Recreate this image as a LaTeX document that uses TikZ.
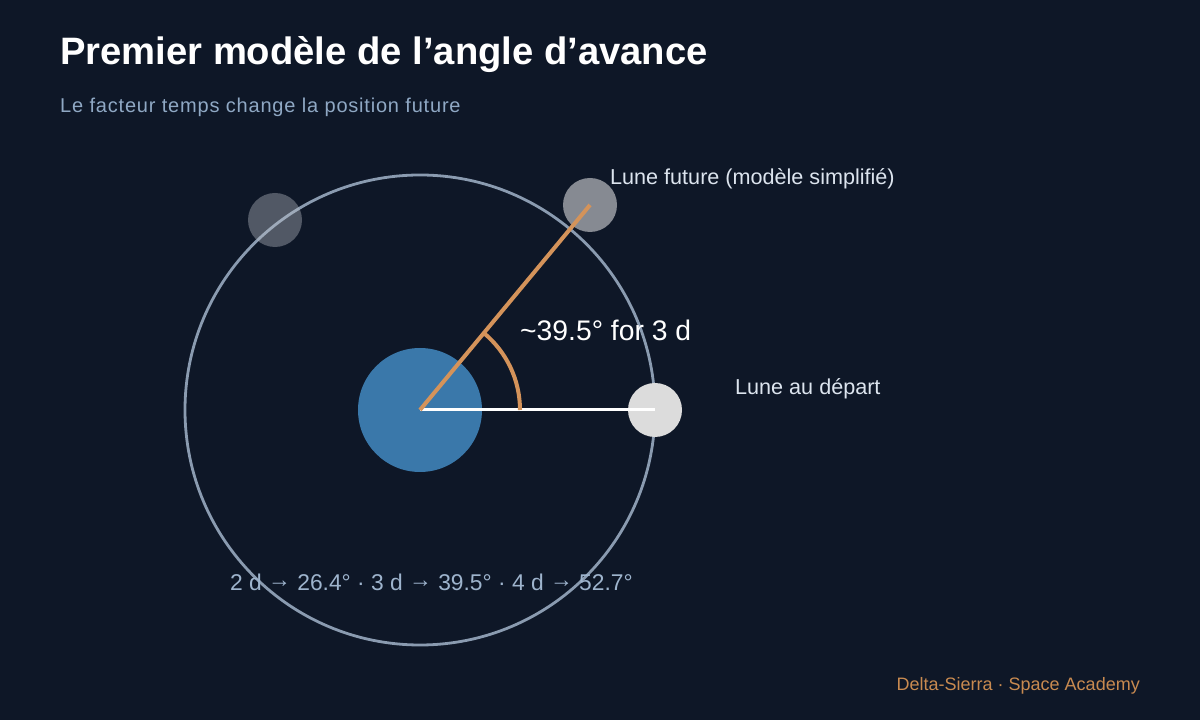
\documentclass[tikz,border=0pt]{standalone}
\usepackage{fontspec}
\setmainfont{Liberation Sans}
\newcommand{\myarr}{\raisebox{3pt}{→}}
\definecolor{bg}{HTML}{0E1727}
\definecolor{orbitc}{HTML}{8A9BB0}
\definecolor{earthc}{HTML}{3A78AA}
\definecolor{moonc}{HTML}{DCDCDC}
\definecolor{futc}{HTML}{868A92}
\definecolor{ghostc}{HTML}{C0C4CC}
\definecolor{orangec}{HTML}{D4935A}
\definecolor{subc}{HTML}{8FA8C4}
\definecolor{labc}{HTML}{DCE4EE}
\definecolor{footc}{HTML}{C88A50}
\tikzset{
  body/.style={circle, inner sep=0pt, minimum size=#1},
  lab/.style={anchor=base west, inner sep=0pt, text=labc, font=\fontsize{21.6}{26}\selectfont},
}
\begin{document}
\begin{tikzpicture}[x=1pt,y=1pt]
\useasboundingbox (0,0) rectangle (1200,720);
\fill[bg] (0,0) rectangle (1200,720);
% title
\node[anchor=base west, inner sep=0pt, text=white, font=\bfseries\fontsize{38.2}{45}\selectfont] (title) at (60,655) {Premier modèle de l’angle d’avance};
\node[anchor=base west, inner sep=0pt, text=subc, font=\fontsize{20}{24}\selectfont, ] (sub) at (60,607) {\addfontfeatures{LetterSpace=4}Le facteur temps change la position future};
% orbit
\coordinate (c) at (420,310);
\draw[orbitc, line width=2.8] (c) circle[radius=235];
% bodies
\node[body=124, fill=earthc] (earth) at (c) {};
\node[body=54, fill=ghostc, fill opacity=0.38] (ghost) at (275,500) {};
\node[body=54, fill=futc] (moon1) at (590,515) {};
\node[body=54, fill=moonc] (moon0) at (655,310) {};
% lines
\draw[white, line width=3] (earth.center) -- (moon0.center);
\draw[orangec, line width=4] (earth.center) -- (moon1.center);
\draw[orangec, line width=4] (520,310) arc[start angle=0, end angle=50.3, radius=100];
% labels
\node[lab] (lfut) at (610,535) {Lune future (modèle simplifié)};
\node[lab] (ldep) at (735,325) {Lune au départ};
\node[anchor=base west, inner sep=0pt, text=white, font=\fontsize{28.3}{33}\selectfont] (ang) at (520,379) {\char"007E 39.5° for 3 d};
\node[anchor=base west, inner sep=0pt, text=subc!80!labc, font=\fontsize{22.8}{27}\selectfont] (tab) at (230,129) {2 d \myarr{} 26.4° · 3 d \myarr{} 39.5° · 4 d \myarr{} 52.7°};
\node[anchor=base east, inner sep=0pt, text=footc, font=\fontsize{18}{22}\selectfont] (foot) at (1140,29) {Delta-Sierra · Space Academy};
\end{tikzpicture}
\end{document}
